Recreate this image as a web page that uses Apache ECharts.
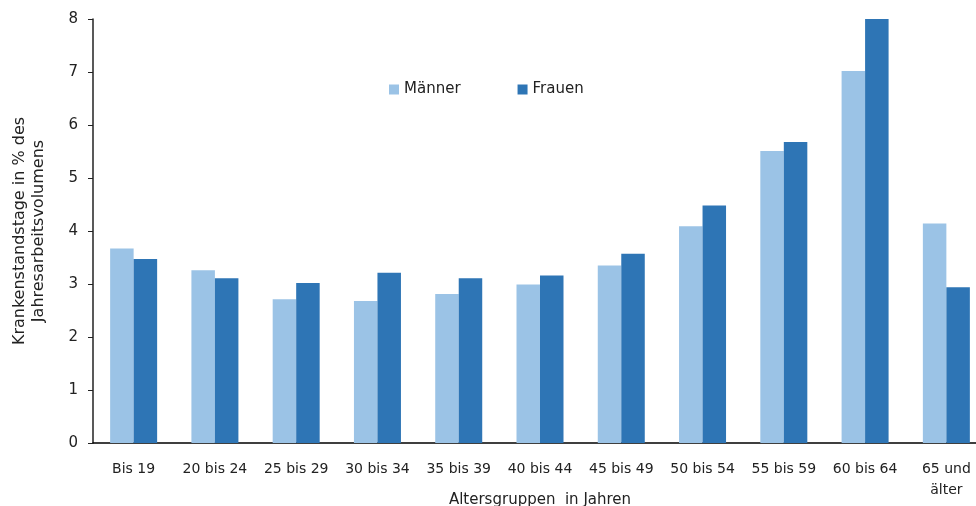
<!DOCTYPE html>
<html>
<head>
<meta charset="utf-8">
<script src="https://cdn.jsdelivr.net/npm/echarts@6/dist/echarts.min.js"></script>
<style>html,body{margin:0;padding:0;background:#fff}#c{width:976px;height:506px}</style>
</head>
<body>
<div id="c"></div>
<script>
const categories = ['Bis 19','20 bis 24','25 bis 29','30 bis 34','35 bis 39','40 bis 44','45 bis 49','50 bis 54','55 bis 59','60 bis 64','65 und\nälter'];
const maenner = [3.67,3.26,2.71,2.68,2.81,2.99,3.35,4.09,5.51,7.02,4.14];
const frauen  = [3.47,3.11,3.02,3.21,3.11,3.16,3.57,4.48,5.68,8.0,2.94];
const yTicks = [0,1,2,3,4,5,6,7,8];

const font = '"DejaVu Sans", sans-serif';
const chart = echarts.init(document.getElementById('c'));
chart.setOption({
  animation:false,
  textStyle:{fontFamily:font},
  legend:{
    data:['Männer','Frauen'],
    left:384, top:77,
    itemWidth:10, itemHeight:10, itemGap:57,
    icon:'rect',
    textStyle:{fontSize:15,color:'#222',fontFamily:font}
  },
  grid:{left:93,right:-11,top:19,bottom:63,containLabel:false,outerBoundsMode:'none'},
  xAxis:{
    type:'category',
    data:categories,
    name:'Altersgruppen  in Jahren',
    nameLocation:'middle',
    nameGap:50,
    nameMoveOverlap:false,
    nameTextStyle:{fontSize:15,color:'#222',verticalAlign:'top'},
    axisLine:{lineStyle:{color:'#000',width:1.5}},
    axisTick:{show:false},
    axisLabel:{fontSize:14,color:'#222',margin:16,lineHeight:21,interval:0}
  },
  yAxis:{
    type:'value',
    min:yTicks[0], max:yTicks[yTicks.length-1], interval:1,
    name:'Krankenstandstage in % des\nJahresarbeitsvolumens',
    nameLocation:'middle',
    nameGap:45,
    nameRotate:90,
    nameTextStyle:{fontSize:16,color:'#222',lineHeight:19},
    axisLine:{show:true,lineStyle:{color:'#222',width:1.5}},
    axisTick:{show:true,length:5,lineStyle:{color:'#222'}},
    splitLine:{show:false},
    axisLabel:{fontSize:15,color:'#222',margin:15}
  },
  series:[
    {name:'Männer',type:'bar',data:maenner,barWidth:23.5,barGap:'0%',
     itemStyle:{color:'#9bc3e6'}},
    {name:'Frauen',type:'bar',data:frauen,barWidth:23.5,barGap:'0%',
     itemStyle:{color:'#2e75b5'}}
  ]
});
</script>
</body>
</html>
